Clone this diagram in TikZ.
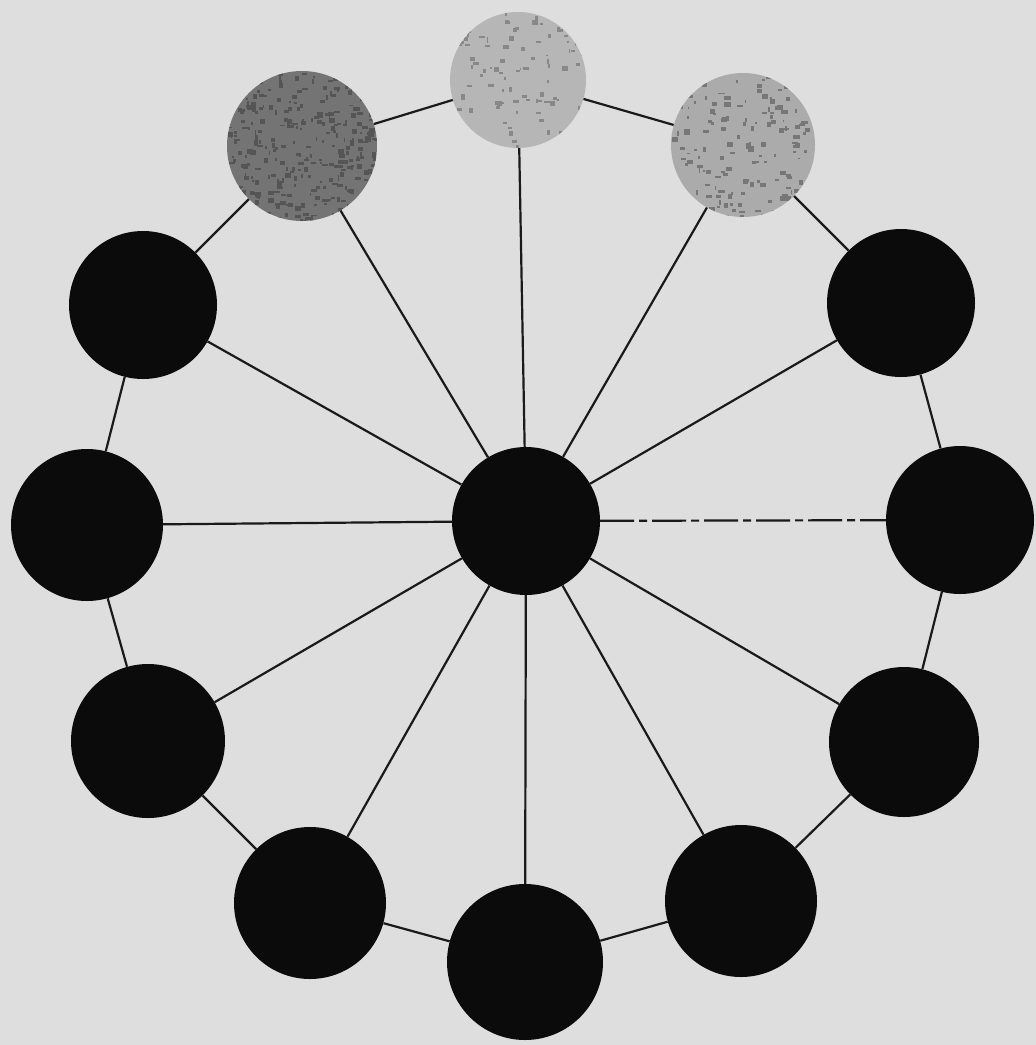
\documentclass[tikz,border=0pt]{standalone}
\definecolor{bg}{HTML}{DEDEDE}
\definecolor{ink}{HTML}{1A1A1A}
\definecolor{blk}{HTML}{0B0B0B}
\definecolor{gdark}{HTML}{747474}
\definecolor{gdarkspk}{HTML}{555555}
\definecolor{glight}{HTML}{B6B6B6}
\definecolor{glightspk}{HTML}{888888}
\definecolor{gmid}{HTML}{ABABAB}
\definecolor{gmidspk}{HTML}{777777}
\tikzset{
  spoke/.style={draw=ink, line width=2.2pt},
  rim/.style={draw=ink, line width=2.2pt},
  ball/.style={circle, inner sep=0pt, fill=blk, draw=none},
  grayball/.style={circle, inner sep=0pt, draw=none},
}
\newcommand\mySpeckles[5]{%
  \begin{scope}
    \clip (#1,#2) circle (#3);
    \foreach \k in {1,...,#5}{
      \pgfmathsetmacro\sx{#1+rand*#3}
      \pgfmathsetmacro\sy{#2+rand*#3}
      \pgfmathsetmacro\sw{1.5+rnd*5}
      \pgfmathsetmacro\sh{1.5+rnd*4}
      \fill[#4] (\sx,\sy) rectangle ++(\sw,\sh);
    }
  \end{scope}}
\begin{document}
\begin{tikzpicture}[x=1pt,y=-1pt]
\pgfmathsetseed{4321}
\fill[bg] (0,0) rectangle (1036,1045);
\useasboundingbox (0,0) rectangle (1036,1045);

% nodes
\node[grayball, fill=glight, minimum size=136pt] (n1) at (518,80) {};
\node[grayball, fill=gmid,  minimum size=144pt] (n2) at (743,145) {};
\node[ball, minimum size=148pt] (n3) at (901,303) {};
\node[ball, minimum size=148pt] (n4) at (960,520) {};
\node[ball, minimum size=150pt] (n5) at (904,742) {};
\node[ball, minimum size=152pt] (n6) at (741,901) {};
\node[ball, minimum size=156pt] (n7) at (525,962) {};
\node[ball, minimum size=152pt] (n8) at (310,903) {};
\node[ball, minimum size=154pt] (n9) at (148,741) {};
\node[ball, minimum size=152pt] (n10) at (87,525) {};
\node[ball, minimum size=148pt] (n11) at (143,305) {};
\node[grayball, fill=gdark, minimum size=150pt] (n12) at (302,146) {};
\node[ball, minimum size=148pt] (c) at (526,521) {};

% speckle textures of the grey balls
\mySpeckles{518}{80}{68}{glightspk}{110}
\mySpeckles{743}{145}{72}{gmidspk}{170}
\mySpeckles{302}{146}{75}{gdarkspk}{320}

% spokes
\draw[spoke] (c) -- (n1);
\draw[spoke] (c) -- (n2);
\draw[spoke] (c) -- (n3);
\draw[spoke, dash pattern=on 34pt off 5pt on 8pt off 5pt] (c) -- (n4);
\draw[spoke] (c) -- (n5);
\draw[spoke] (c) -- (n6);
\draw[spoke] (c) -- (n7);
\draw[spoke] (c) -- (n8);
\draw[spoke] (c) -- (n9);
\draw[spoke] (c) -- (n10);
\draw[spoke] (c) -- (n11);
\draw[spoke] (c) -- (n12);
% rim
\draw[rim] (n1) -- (n2);
\draw[rim] (n2) -- (n3);
\draw[rim] (n3) -- (n4);
\draw[rim] (n4) -- (n5);
\draw[rim] (n5) -- (n6);
\draw[rim] (n6) -- (n7);
\draw[rim] (n7) -- (n8);
\draw[rim] (n8) -- (n9);
\draw[rim] (n9) -- (n10);
\draw[rim] (n10) -- (n11);
\draw[rim] (n11) -- (n12);
\draw[rim] (n12) -- (n1);
\end{tikzpicture}
\end{document}
